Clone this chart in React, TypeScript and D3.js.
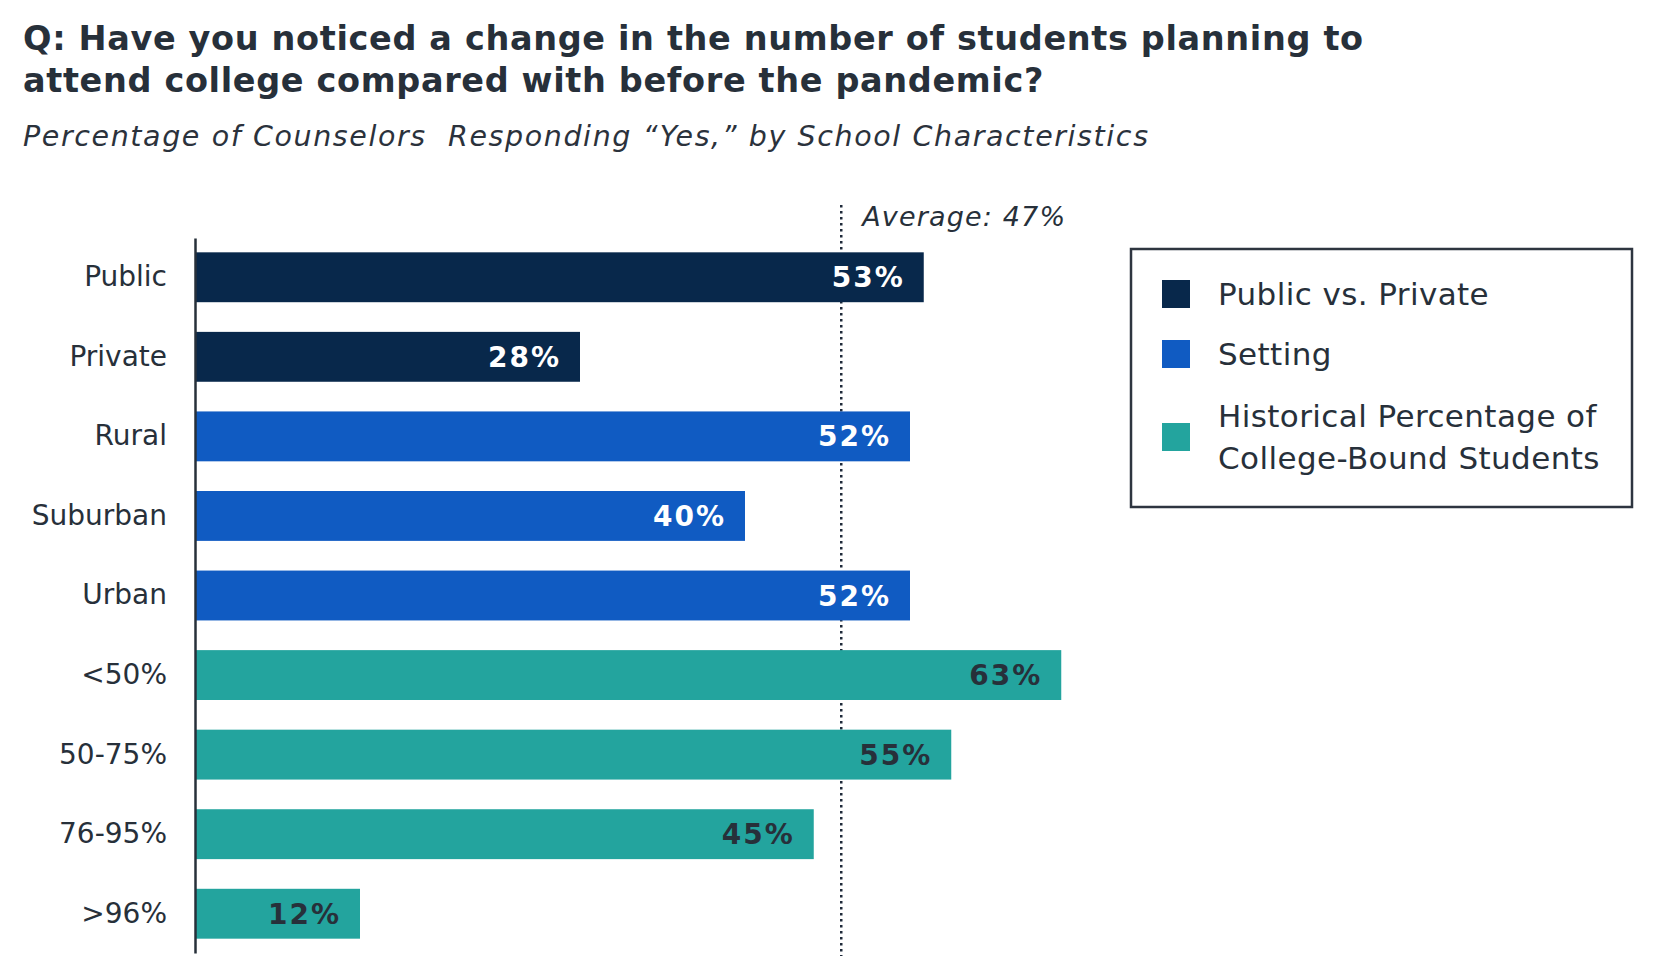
import { select, scaleLinear, scaleBand, axisLeft } from 'd3';
import { useEffect, useRef } from 'react';

const categories = ['Public', 'Private', 'Rural', 'Suburban', 'Urban', '<50%', '50-75%', '76-95%', '>96%'];
const values = [53, 28, 52, 40, 52, 63, 55, 45, 12];
const groups = ['Public vs. Private', 'Public vs. Private', 'Setting', 'Setting', 'Setting',
  'Historical', 'Historical', 'Historical', 'Historical'];
const legendLabels = [['Public vs. Private'], ['Setting'], ['Historical Percentage of', 'College-Bound Students']];
const groupKeys = ['Public vs. Private', 'Setting', 'Historical'];
const average = 47;

const colors: Record<string, string> = {
  'Public vs. Private': '#08284b',
  'Setting': '#105bc2',
  'Historical': '#23a49e',
};
const labelColors: Record<string, string> = {
  'Public vs. Private': '#ffffff',
  'Setting': '#ffffff',
  'Historical': '#27303a',
};

const FONT = '"DejaVu Sans", Verdana, sans-serif';
const INK = '#27303a';

export default function App() {
  const svgRef = useRef<SVGSVGElement>(null);

  useEffect(() => {
    if (svgRef.current == null) return;
    const svg = select(svgRef.current);
    svg.selectAll('*').remove();

    const x = scaleLinear().domain([0, 100]).range([195, 1570]);
    const y = scaleBand<string>().domain(categories).range([238, 953]).paddingInner(0.373).paddingOuter(0.18);

    // title + subtitle
    const title = svg.append('g').attr('font-family', FONT).attr('fill', INK);
    title.append('text').attr('x', 23).attr('y', 50).attr('font-size', 33.5).attr('font-weight', 'bold')
      .attr('letter-spacing', 0.65)
      .text('Q: Have you noticed a change in the number of students planning to');
    title.append('text').attr('x', 23).attr('y', 92).attr('font-size', 33.5).attr('font-weight', 'bold')
      .attr('letter-spacing', 0.65)
      .text('attend college compared with before the pandemic?');
    title.append('text').attr('x', 23).attr('y', 146).attr('font-size', 28.5).attr('font-style', 'italic')
      .attr('fill', '#2b323c')
      .attr('letter-spacing', 1.6)
      .attr('xml:space', 'preserve')
      .text('Percentage of Counselors  Responding \u201cYes,\u201d by School Characteristics');

    // average line (behind bars)
    svg.append('line')
      .attr('x1', x(average)).attr('x2', x(average))
      .attr('y1', 205).attr('y2', 956)
      .attr('stroke', '#1f2a3a').attr('stroke-width', 2.5)
      .attr('stroke-dasharray', '2.5 3.5');
    svg.append('text')
      .attr('x', x(average) + 21).attr('y', 217).attr('dy', '0.35em')
      .attr('font-family', FONT).attr('font-size', 27).attr('font-style', 'italic').attr('fill', INK)
      .attr('letter-spacing', 1.15)
      .text(`Average: ${average}%`);

    // bars
    const rows = categories.map((c, i) => ({ c, v: values[i], g: groups[i] }));
    svg.append('g').selectAll('rect').data(rows).enter().append('rect')
      .attr('x', x(0))
      .attr('y', d => y(d.c)!)
      .attr('width', d => x(d.v) - x(0))
      .attr('height', y.bandwidth())
      .attr('fill', d => colors[d.g]);

    svg.append('g').selectAll('text').data(rows).enter().append('text')
      .attr('x', d => x(d.v) - 19)
      .attr('y', d => y(d.c)! + y.bandwidth() / 2)
      .attr('dy', '0.36em')
      .attr('text-anchor', 'end')
      .attr('font-family', FONT).attr('font-weight', 'bold').attr('font-size', 28)
      .attr('letter-spacing', 2)
      .attr('fill', d => labelColors[d.g])
      .text(d => `${d.v}%`);

    // category axis
    const ax = svg.append('g').attr('transform', `translate(${x(0)},0)`)
      .call(axisLeft(y).tickSize(0).tickPadding(28).tickSizeOuter(0));
    ax.select('.domain').attr('stroke', INK).attr('stroke-width', 2.5);
    ax.selectAll('text').attr('font-family', FONT).attr('font-size', 28).attr('fill', INK);

    // legend
    const lg = svg.append('g').attr('font-family', FONT);
    lg.append('rect').attr('x', 1131).attr('y', 249).attr('width', 501).attr('height', 258)
      .attr('fill', 'none').attr('stroke', '#2e3540').attr('stroke-width', 2.5);
    const centers = [294, 354, 437];
    groupKeys.forEach((k, i) => {
      lg.append('rect').attr('x', 1162).attr('y', centers[i] - 14).attr('width', 28).attr('height', 28)
        .attr('fill', colors[k]);
      const lines = legendLabels[i];
      lines.forEach((t, j) => {
        lg.append('text').attr('x', 1218)
          .attr('y', centers[i] + (j - (lines.length - 1) / 2) * 42)
          .attr('dy', '0.36em')
          .attr('font-size', 31).attr('fill', INK)
          .attr('letter-spacing', 0.4)
          .text(t);
      });
    });
  }, []);

  return (
    <svg ref={svgRef} width={1664} height={968}
      style={{ position: 'absolute', left: 0, top: 0, background: '#ffffff' }} />
  );
}
